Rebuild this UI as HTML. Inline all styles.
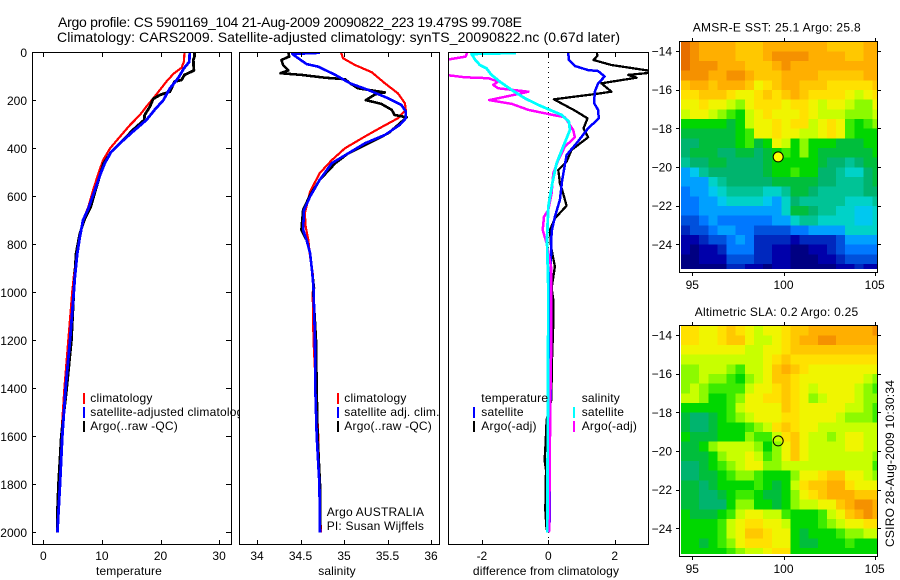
<!DOCTYPE html>
<html>
<head>
<meta charset="utf-8">
<title>Argo profile</title>
<style>
html,body{margin:0;padding:0;background:#fff;width:900px;height:580px;overflow:hidden}
svg{display:block}
text{font-family:"Liberation Sans",sans-serif;font-size:12px;fill:#000}
</style>
</head>
<body>
<svg id="chart" width="900" height="580" viewBox="0 0 900 580" xmlns="http://www.w3.org/2000/svg">
<defs>
<clipPath id="clip-temp"><rect x="32" y="52" width="200" height="493"/></clipPath>
<clipPath id="clip-sal"><rect x="239" y="52" width="200" height="493"/></clipPath>
<clipPath id="clip-diff"><rect x="448" y="52" width="200" height="493"/></clipPath>
<clipPath id="clip-map1"><rect x="681" y="42" width="196" height="227"/></clipPath>
<clipPath id="clip-map2"><rect x="681" y="326" width="196" height="228"/></clipPath>
</defs>
<text x="58" y="27" font-size="14" style="font-size:14px" textLength="464" lengthAdjust="spacing">Argo profile: CS 5901169_104 21-Aug-2009 20090822_223 19.479S 99.708E</text>
<text x="57" y="42" font-size="14" style="font-size:14px" textLength="563" lengthAdjust="spacing">Climatology: CARS2009. Satellite-adjusted climatology: synTS_20090822.nc (0.67d later)</text>
<g id="layer"></g>
<text transform="translate(894,547) rotate(-90)" textLength="167" lengthAdjust="spacing">CSIRO 28-Aug-2009 10:30:34</text>
</svg>
<script>
// ---------- axis tick labels ----------
var depthTicks = [0,200,400,600,800,1000,1200,1400,1600,1800,2000];
var tempTicks = [0,10,20,30];
var salTicks = [34,34.5,35,35.5,36];
var diffTicks = [-2,0,2];
var lonTicks = [95,100,105];
var latTicks = [-14,-16,-18,-20,-22,-24];

// ---------- temperature panel ----------
var tempClimDepth = [0,39,64,90,122,185,226,261,303,351,400,449,497,574,643,699,768,838,935,1000,1200,1400,1600,1800,2000];
var tempClimValues = [24.1,24,23.6,22.2,21,19,17.6,16.5,14.8,13.1,11.4,10.2,9.5,8.5,7.7,6.8,6.25,5.7,5.2,4.94,4.26,3.6,3.07,2.56,2.4];
var tempSatDepth = [0,40,67,108,150,199,240,282,330,372,414,462,511,574,650,699,768,838,935,1000,1200,1400,1600,1800,2000];
var tempSatValues = [25,24.9,24,23,21.6,20.5,19,17.6,15.3,13.4,11.6,10.5,9.7,8.8,7.7,6.8,6.25,5.8,5.4,5.2,4.55,3.8,3.25,2.85,2.4];
var tempArgoDepth = [0,18,32,76,94,115,122,164,178,194,226,261,282,323,372,414,462,511,574,643,692,754,838,935,1000,1200,1400,1600,1800,1920,2000];
var tempArgoValues = [25.8,25.8,25.6,25.7,24.1,23.6,22.4,21.6,19.9,18.75,18.2,17.3,17.2,15.3,13.4,11.6,10.3,9.7,8.9,8.1,7.1,6.25,5.6,5.35,5.2,4.8,4,3.07,2.6,2.4,2.4];

// ---------- salinity panel ----------
var salClimDepth = [0,25,53,83,129,171,212,240,275,312,351,400,449,504,581,671,726,782,851,921,983,1000,1200,1600,1800,2000];
var salClimValues = [34.966,34.99,35.126,35.318,35.47,35.62,35.7,35.71,35.62,35.43,35.24,35.01,34.86,34.72,34.61,34.55,34.56,34.59,34.61,34.64,34.65,34.64,34.65,34.705,34.717,34.735];
var salSatDepth = [2,7,25,49,60,94,129,157,192,219,247,275,303,344,379,421,462,532,601,657,740,782,837,921,983,1200,1400,1600,1800,2000];
var salSatValues = [34.724,34.406,34.475,34.57,34.705,34.9,35.07,35.28,35.51,35.66,35.71,35.71,35.64,35.47,35.24,35.05,34.86,34.72,34.61,34.54,34.53,34.57,34.61,34.636,34.65,34.667,34.67,34.686,34.717,34.724];
var salArgoDepth = [0,18,32,53,76,87,94,106,112,129,150,167,175,199,215,240,261,271,303,337,372,421,462,532,595,657,740,782,837,921,983,1000,1200,1400,1600,1800,2000];
var salArgoValues = [34.36,34.37,34.28,34.3,34.36,34.27,34.51,34.78,35.01,35.07,35.16,35.47,35.36,35.25,35.43,35.55,35.58,35.72,35.62,35.51,35.32,35.05,34.9,34.72,34.61,34.53,34.51,34.57,34.61,34.636,34.655,34.647,34.678,34.686,34.697,34.724,34.724];

// ---------- difference panel ----------
var diffTempSatDepth = [0,32,57,74,78,101,129,164,212,240,275,317,379,428,532,615,685,747,851,983,1226,1546,1643,1920,1976];
var diffTempSatValues = [0.6,0.62,0.8,1.2,1.5,1.7,1.5,1.4,1.38,1.5,1.52,1.2,0.85,0.55,0.42,0.35,0.2,0.1,0.08,0.06,0.08,0.06,0.03,0.05,0.03];
var diffTempArgoDepth = [0,15,32,53,76,85,94,106,129,164,174,196,243,275,317,354,407,456,490,546,574,639,692,740,810,893,983,1032,1129,1282,1449,1532,1630,1700,1740,1907,1990];
var diffTempArgoValues = [1.46,1.48,1.36,1.9,3,3.1,2.41,2.66,1.6,1.9,1.4,0.17,0.8,1.18,1.06,1.2,0.7,0.55,0.3,0.35,0.42,0.55,0.2,0.05,0.08,0.2,0.1,0.15,0.15,0.11,0.09,-0.05,-0.08,-0.11,-0.07,-0.09,-0.05];
var diffSalArgoDepth = [0,7,18,32,50,80,94,104,108,122,136,150,164,178,199,215,240,257,271,324,354,393,449,504,588,657,685,740,796,893,983,1200,1460,1800,2000];
var diffSalArgoValues = [-2.46,-2.46,-2.49,-3.1,-3.3,-3.3,-3.1,-2.51,-1.81,-1.51,-1.66,-1.51,-0.6,-1.05,-1.78,-1.1,-0.6,0,0.5,0.75,0.8,0.5,0.3,0.15,0.1,0,-0.13,-0.17,-0.05,0.08,0.08,0.09,0.06,0.04,0.02];
var diffSalSatDepth = [3,7,32,53,67,94,122,157,192,219,243,261,289,324,393,462,546,643,782,983,1400,2000];
var diffSalSatValues = [-0.97,-2.31,-2.2,-2.06,-1.86,-1.71,-1.46,-1.1,-0.7,-0.3,0.1,0.4,0.62,0.65,0.45,0.25,0.12,0,-0.04,0,-0.01,-0.03];

// ---------- heatmaps (colour level 0 navy .. 20 dark orange), 0.5 degree rows north to south ----------
var sstGrid = [
[20,19,18,18,18,18,17,17,17,18,18,18,18,18,18,18,17,17,17,17,18,18],
[20,19,18,18,18,18,17,17,17,18,19,19,19,19,18,18,18,18,17,17,18,18],
[20,19,19,19,18,18,18,17,17,17,18,19,18,18,18,18,18,18,18,18,18,18],
[19,19,19,18,18,19,19,18,17,17,17,18,18,18,18,17,17,17,17,17,18,18],
[17,18,18,17,18,18,18,17,15,16,17,18,18,17,17,17,16,16,16,16,16,17],
[16,16,17,17,17,16,15,15,16,17,16,17,18,17,16,16,16,16,15,14,15,16],
[15,15,16,15,15,14,13,15,16,16,16,15,16,16,15,14,15,15,14,13,13,15],
[14,15,15,14,13,12,11,14,15,16,15,15,15,16,15,14,14,14,13,13,13,14],
[11,11,11,11,11,10,11,14,15,15,16,15,16,16,14,15,16,15,12,11,12,13],
[10,10,10,10,10,10,11,12,15,15,16,15,15,14,14,15,16,15,12,11,11,11],
[9,9,10,10,10,10,11,12,10,11,15,14,11,13,11,11,11,10,10,10,11,11],
[9,10,10,10,9,9,10,10,9,10,11,12,11,13,11,10,10,10,10,10,10,11],
[8,9,9,10,10,9,9,9,9,10,11,11,11,11,11,10,9,9,8,9,10,10],
[5,6,8,9,9,9,9,9,9,10,11,11,12,11,11,9,9,8,7,7,9,10],
[5,5,5,7,8,9,9,9,9,9,10,10,10,10,10,9,9,8,8,8,9,10],
[4,5,5,6,7,8,8,8,8,7,7,8,10,10,9,8,8,8,8,8,9,9],
[4,4,5,5,6,7,7,7,7,6,5,7,9,8,8,8,8,8,7,7,7,8],
[4,4,5,5,5,5,5,5,5,5,5,7,10,10,9,8,8,7,7,6,6,7],
[3,3,4,5,4,4,4,4,4,4,5,5,7,8,8,7,7,7,7,6,6,7],
[2,3,3,4,5,5,4,4,3,3,3,3,4,4,5,5,5,5,7,7,7,7],
[1,1,2,3,3,4,5,4,2,2,2,2,1,2,2,2,2,3,5,5,5,5],
[1,0,1,1,2,4,4,4,2,2,1,1,0,0,1,1,2,3,4,4,4,4],
[0,0,1,1,1,3,3,3,2,2,1,1,0,0,0,1,1,2,3,3,3,3],
[0,0,0,0,0,2,2,1,1,0,1,1,0,0,0,0,0,1,1,2,1,1]
];
var slaGrid = [
[16,16,15,15,16,17,16,15,14,15,15,16,17,17,18,18,18,18,18,18,18,19],
[16,16,15,15,16,17,17,15,14,14,15,16,17,18,18,19,19,18,18,18,18,18],
[15,15,15,15,15,15,15,14,14,15,15,16,17,17,17,17,17,17,17,17,17,17],
[14,14,14,14,14,14,14,14,14,15,16,17,16,16,16,16,16,16,16,16,16,16],
[13,13,14,14,14,13,12,14,14,15,17,18,17,16,15,15,15,15,15,15,15,15],
[13,13,14,13,13,12,11,13,14,15,17,17,16,15,15,15,15,15,15,15,14,13],
[13,14,13,12,12,12,12,14,15,15,16,17,16,15,14,15,15,15,15,14,13,12],
[14,14,13,11,11,12,13,15,15,16,16,17,16,15,13,14,15,15,15,14,13,13],
[11,11,11,11,11,12,14,15,15,15,15,17,16,15,15,15,15,15,14,14,13,12],
[10,9,9,10,11,12,13,14,15,15,15,16,16,15,15,15,15,14,13,13,13,12],
[10,9,9,10,11,11,11,12,13,14,16,17,16,15,15,14,14,14,14,14,14,14],
[11,10,10,10,11,11,11,13,12,12,14,16,17,15,14,14,13,14,15,15,14,14],
[10,10,11,13,14,14,14,14,13,11,13,15,17,15,14,14,14,14,15,15,14,14],
[10,10,10,11,13,14,14,15,14,12,13,15,17,15,14,14,14,14,14,14,14,13],
[9,9,10,11,12,13,14,15,15,13,13,14,14,14,14,14,14,14,14,14,14,12],
[9,9,10,10,11,12,13,13,12,11,11,11,13,15,15,16,17,17,15,15,14,13],
[10,10,9,10,11,11,11,11,12,11,10,11,14,16,17,17,18,18,16,15,15,15],
[10,10,9,9,10,11,12,12,11,10,10,11,13,15,16,17,18,18,18,17,17,17],
[10,10,9,9,9,11,13,13,11,11,10,11,13,14,14,15,15,17,18,19,19,18],
[11,10,10,10,11,12,14,15,15,14,14,12,11,11,11,12,14,15,17,18,19,18],
[11,11,11,11,12,14,15,16,16,15,15,14,11,11,11,12,13,14,15,15,16,16],
[11,11,11,11,12,14,15,17,17,16,15,15,11,10,11,11,11,12,13,13,14,14],
[11,11,10,11,12,13,15,16,16,16,15,15,11,10,10,11,11,11,12,11,11,11],
[11,11,11,11,11,12,13,14,14,15,16,16,11,11,11,11,11,11,11,11,11,11]
];
var profileLon = 99.708;
var profileLat = -19.479;

// ---------- axis functions ----------
function depthY(d){ return 52.3 + d*0.24; }
function tempX(v){ return 43.3 + v*5.86; }
function salX(v){ return 257 + (v-34)*87; }
function diffX(v){ return 548.3 + v*33.2; }
function lonX(v){ return 692.3 + (v-95)*18.24; }
function lat1Y(v){ return 51 + (-14-v)*19.33; }
function lat2Y(v){ return 335 + (-14-v)*19.33; }

var SVGNS = 'http://www.w3.org/2000/svg';
var layer = document.getElementById('layer');

function make(tag, attrs, parent){
  var e = document.createElementNS(SVGNS, tag);
  for (var k in attrs) e.setAttribute(k, attrs[k]);
  (parent || layer).appendChild(e);
  return e;
}
function pointsOf(depths, values, xf){
  var out = [];
  for (var i = 0; i < depths.length; i++) out.push(xf(values[i]).toFixed(1) + ',' + depthY(depths[i]).toFixed(1));
  return out.join(' ');
}
function levelColor(level){
  var stops = [[0,0,130],[0,0,170],[0,40,190],[0,80,220],[0,120,255],[0,160,255],[0,200,240],[0,210,200],[0,195,150],[0,180,110],[0,190,60],[0,215,0],[60,235,0],[140,250,0],[200,255,0],[240,245,0],[255,225,0],[255,200,0],[255,175,0],[245,145,0],[230,110,0]];
  var l = Math.max(0, Math.min(20, level));
  var a = Math.floor(l), b = Math.min(20, a+1), t = l-a;
  var c = [0,1,2].map(function(n){ return Math.round(stops[a][n]*(1-t)+stops[b][n]*t); });
  return 'rgb(' + c.join(',') + ')';
}
function line(x1,y1,x2,y2,parent){
  return make('line',{x1:x1,y1:y1,x2:x2,y2:y2,stroke:'#000','stroke-width':1,'shape-rendering':'crispEdges'},parent);
}

// ---------- profile panels ----------
function drawPanel(name, left, right, clipId, xf, ticks, withDepthAxis){
  var g = make('g',{});
  
  
  var bg = make('rect',{x:left,y:52,width:right-left,height:493,fill:'#fff',stroke:'none'},g);
  
  
  var plot = make('g',{'clip-path':'url(#'+clipId+')'},g);
  
  
  return {g:g, plot:plot, left:left, right:right, xf:xf, ticks:ticks, withDepthAxis:withDepthAxis};
}
function drawFrame(p, title, titleX, tickFmt){
  var frame = make('rect',{x:p.left+0.5,y:52.5,width:p.right-p.left,height:492,fill:'none',stroke:'#000','stroke-width':1,'shape-rendering':'crispEdges'},p.g);
  
  
  p.ticks.forEach(function(v){
    var x = Math.round(p.xf(v)) + 0.5;
    var t1 = line(x,53,x,57,p.g);
    
    
    var t2 = line(x,540,x,545,p.g);
    
    
    var lab = make('text',{x:p.xf(v),y:560,'text-anchor':'middle'},p.g);
    lab.textContent = tickFmt(v);
    
    
  });
  var t = make('text',{x:titleX,y:575,'text-anchor':'middle',style:'letter-spacing:0.11px'},p.g);
  t.textContent = title;
  
  
}
function addSeries(p, depths, values, color, width, name){
  var pl = make('polyline',{points:pointsOf(depths,values,p.xf),fill:'none',stroke:color,'stroke-width':width,'stroke-linejoin':'round','shape-rendering':'crispEdges'},p.plot);
  
  
}
function addLegend(p, x, tx, y, color, label, name){
  if (color) {
    var m = make('rect',{x:x,y:y-5,width:2,height:11,fill:color,'shape-rendering':'crispEdges'},p.g);
    
    
  }
  var t = make('text',{x:tx,y:y+4,style:'letter-spacing:0.2px'},p.g);
  t.textContent = label;
  
  
}

// temperature
var pT = drawPanel('temperature', 32, 231, 'clip-temp', tempX, tempTicks, true);
addSeries(pT, tempClimDepth, tempClimValues, '#f00', 2.2, 'temperature-climatology-line');
addSeries(pT, tempArgoDepth, tempArgoValues, '#000', 2.8, 'temperature-argo-line');
addSeries(pT, tempSatDepth, tempSatValues, '#00f', 2.8, 'temperature-satellite-line');
drawFrame(pT, 'temperature', 129, function(v){ return String(v); });
depthTicks.forEach(function(d){
  var y = Math.round(depthY(d)) + 0.5;
  var a = line(32,y,36,y,pT.g);
  
  
  var b = line(226,y,231,y,pT.g);
  
  
  var l = make('text',{x:27,y:depthY(d)+4.5,'text-anchor':'end'},pT.g);
  l.textContent = String(d);
  
  
});
addLegend(pT, 83, 90.3, 398, '#f00', 'climatology', 'temperature-climatology');
addLegend(pT, 83, 90.3, 412, '#00f', 'satellite-adjusted climatology', 'temperature-satellite');
addLegend(pT, 83, 90.3, 426, '#000', 'Argo(..raw -QC)', 'temperature-argo');

// salinity
var pS = drawPanel('salinity', 239, 439, 'clip-sal', salX, salTicks, false);
addSeries(pS, salClimDepth, salClimValues, '#f00', 2.2, 'salinity-climatology-line');
addSeries(pS, salArgoDepth, salArgoValues, '#000', 2.6, 'salinity-argo-line');
addSeries(pS, salSatDepth, salSatValues, '#00f', 2.6, 'salinity-satellite-line');
drawFrame(pS, 'salinity', 337, function(v){ return String(v); });
addLegend(pS, 337, 344.3, 398, '#f00', 'climatology', 'salinity-climatology');
addLegend(pS, 337, 344.3, 412, '#00f', 'satellite adj. clim.', 'salinity-satellite');
addLegend(pS, 337, 344.3, 426, '#000', 'Argo(..raw -QC)', 'salinity-argo');
addLegend(pS, 0, 326.7, 512, null, 'Argo AUSTRALIA', 'argo-program');
addLegend(pS, 0, 326.7, 526, null, 'PI: Susan Wijffels', 'principal-investigator');

// difference
var pD = drawPanel('difference', 448, 648, 'clip-diff', diffX, diffTicks, false);
var zero = make('line',{x1:548.5,y1:52,x2:548.5,y2:545,stroke:'#000','stroke-width':1,'stroke-dasharray':'1 4','shape-rendering':'crispEdges'},pD.plot);


addSeries(pD, diffTempArgoDepth, diffTempArgoValues, '#000', 2.3, 'difference-temperature-argo-line');
addSeries(pD, diffTempSatDepth, diffTempSatValues, '#00f', 2.5, 'difference-temperature-satellite-line');
addSeries(pD, diffSalArgoDepth, diffSalArgoValues, '#f0f', 2.5, 'difference-salinity-argo-line');
addSeries(pD, diffSalSatDepth, diffSalSatValues, '#0ff', 2.8, 'difference-salinity-satellite-line');
drawFrame(pD, 'difference from climatology', 546, function(v){ return String(v); });
addLegend(pD, 0, 481.3, 398, null, 'temperature', 'temperature-group');
addLegend(pD, 473, 481.3, 412, '#00f', 'satellite', 'difference-temperature-satellite');
addLegend(pD, 473, 481.3, 426, '#000', 'Argo(-adj)', 'difference-temperature-argo');
addLegend(pD, 0, 581.7, 398, null, 'salinity', 'salinity-group');
addLegend(pD, 573, 581.7, 412, '#0ff', 'satellite', 'difference-salinity-satellite');
addLegend(pD, 573, 581.7, 426, '#f0f', 'Argo(-adj)', 'difference-salinity-argo');

// ---------- maps ----------
function drawMap(name, grid, clipId, latY, boxTop, boxBottom, titleText, titleX, titleY, titleLen, labelY, markerFill){
  var g = make('g',{});
  
  
  var cells = make('g',{'clip-path':'url(#'+clipId+')'},g);
  
  
  var lon0 = 94.38, lat0 = -13.52;
  grid.forEach(function(row, r){
    row.forEach(function(level, c){
      var x0 = lonX(lon0 + c*0.5), x1 = lonX(lon0 + (c+1)*0.5);
      var y0 = latY(lat0 - r*0.5), y1 = latY(lat0 - (r+1)*0.5);
      var cell = make('rect',{x:x0.toFixed(1),y:y0.toFixed(1),width:(x1-x0+0.5).toFixed(1),height:(y1-y0+0.5).toFixed(1),fill:levelColor(level),'shape-rendering':'crispEdges'},cells);
      
      
    });
  });
  var frame = make('rect',{x:679.5,y:boxTop+0.5,width:198,height:boxBottom-boxTop,fill:'none',stroke:'#000','stroke-width':1,'shape-rendering':'crispEdges'},g);
  
  
  lonTicks.forEach(function(v){
    var x = Math.round(lonX(v)) + 0.5;
    var a = line(x,boxTop-3,x,boxTop,g);
    
    
    var b = line(x,boxBottom+1,x,boxBottom+4,g);
    
    
    var l = make('text',{x:lonX(v),y:labelY,'text-anchor':'middle'},g);
    l.textContent = String(v);
    
    
  });
  latTicks.forEach(function(v){
    var y = Math.round(latY(v)) + 0.5;
    var a = line(676,y,679,y,g);
    
    
    var b = line(878,y,881,y,g);
    
    
    var l = make('text',{x:672,y:latY(v)+4.5,'text-anchor':'end'},g);
    l.textContent = '\u2212' + String(Math.abs(v));
    
    
  });
  var t = make('text',{x:titleX,y:titleY,textLength:titleLen,lengthAdjust:'spacing'},g);
  t.textContent = titleText;
  
  
  var m = make('circle',{cx:lonX(profileLon),cy:latY(profileLat),r:5,fill:markerFill,stroke:'#000','stroke-width':1},g);
  
  
}
drawMap('sst', sstGrid, 'clip-map1', lat1Y, 41, 272, 'AMSR-E SST: 25.1 Argo: 25.8', 692.7, 31.5, 168, 289, '#ff0');
drawMap('sla', slaGrid, 'clip-map2', lat2Y, 325, 556, 'Altimetric SLA: 0.2 Argo: 0.25', 694.7, 316, 163.5, 573, 'none');
</script>
</body>
</html>
